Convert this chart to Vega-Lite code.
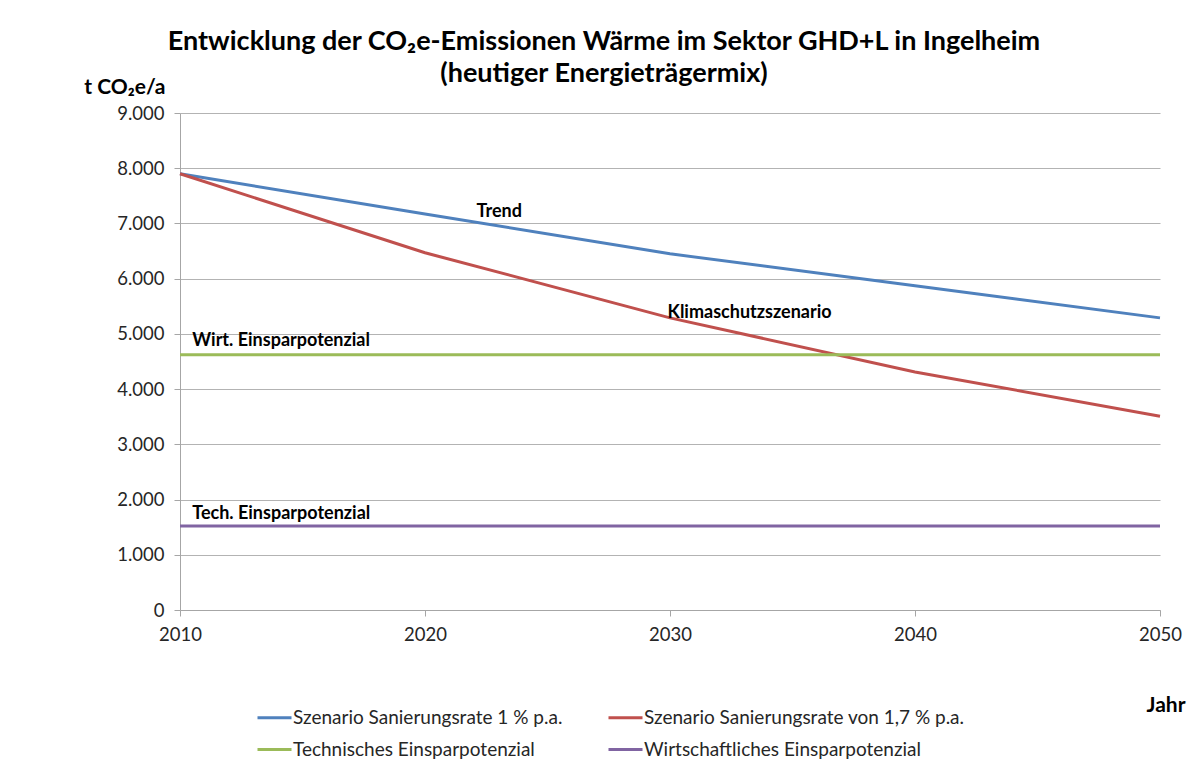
{
  "$schema": "https://vega.github.io/schema/vega-lite/v6.json",
  "width": 980,
  "height": 497,
  "autosize": {"type": "none"},
  "padding": {"left": 180, "top": 113, "right": 32, "bottom": 159},
  "background": "white",
  "title": {
    "text": ["Entwicklung der CO₂e-Emissionen Wärme im Sektor GHD+L in Ingelheim", "(heutiger Energieträgermix)"],
    "font": "Lato",
    "fontSize": 27,
    "fontWeight": "bold",
    "color": "#000000",
    "anchor": "middle",
    "frame": "group",
    "dx": -66,
    "dy": 8,
    "offset": -4,
    "lineHeight": 32
  },
  "config": {
    "locale": {"number": {"decimal": ",", "thousands": ".", "grouping": [3], "currency": ["", " €"]}},
    "view": {"stroke": null},
    "font": "Lato"
  },
  "datasets": {
    "lines": [
      {"year": 2010, "value": 7900, "series": "Szenario Sanierungsrate 1 % p.a."},
      {"year": 2020, "value": 7170, "series": "Szenario Sanierungsrate 1 % p.a."},
      {"year": 2030, "value": 6450, "series": "Szenario Sanierungsrate 1 % p.a."},
      {"year": 2040, "value": 5870, "series": "Szenario Sanierungsrate 1 % p.a."},
      {"year": 2050, "value": 5290, "series": "Szenario Sanierungsrate 1 % p.a."},
      {"year": 2010, "value": 7900, "series": "Szenario Sanierungsrate von 1,7 % p.a."},
      {"year": 2020, "value": 6470, "series": "Szenario Sanierungsrate von 1,7 % p.a."},
      {"year": 2030, "value": 5290, "series": "Szenario Sanierungsrate von 1,7 % p.a."},
      {"year": 2040, "value": 4310, "series": "Szenario Sanierungsrate von 1,7 % p.a."},
      {"year": 2050, "value": 3510, "series": "Szenario Sanierungsrate von 1,7 % p.a."},
      {"year": 2010, "value": 4620, "series": "Technisches Einsparpotenzial"},
      {"year": 2050, "value": 4620, "series": "Technisches Einsparpotenzial"},
      {"year": 2010, "value": 1520, "series": "Wirtschaftliches Einsparpotenzial"},
      {"year": 2050, "value": 1520, "series": "Wirtschaftliches Einsparpotenzial"}
    ],
    "labels": [
      {"year": 2022.1, "value": 7210, "label": "Trend"},
      {"year": 2029.9, "value": 5380, "label": "Klimaschutzszenario"},
      {"year": 2010.5, "value": 4873, "label": "Wirt. Einsparpotenzial"},
      {"year": 2010.5, "value": 1739, "label": "Tech. Einsparpotenzial"}
    ]
  },
  "layer": [
    {
      "data": {"name": "lines"},
      "mark": {"type": "line", "strokeWidth": 3},
      "encoding": {
        "x": {
          "field": "year",
          "type": "quantitative",
          "scale": {"domain": [2010, 2050], "nice": false, "zero": false},
          "axis": {
            "values": [2010, 2020, 2030, 2040, 2050],
            "format": "d",
            "grid": false,
            "labelFlush": false,
            "domainColor": "#a6a6a6",
            "tickColor": "#a6a6a6",
            "tickSize": 6,
            "labelFont": "Lato",
            "labelFontSize": 18.5,
            "labelColor": "#262626",
            "labelPadding": 9,
            "title": "Jahr",
            "titleFont": "Lato",
            "titleFontSize": 21,
            "titleFontWeight": "bold",
            "titleColor": "#000000",
            "titleAlign": "right",
            "titleBaseline": "alphabetic",
            "titleX": 1005,
            "titleY": 101
          }
        },
        "y": {
          "field": "value",
          "type": "quantitative",
          "scale": {"domain": [0, 9000], "nice": false},
          "axis": {
            "values": [0, 1000, 2000, 3000, 4000, 5000, 6000, 7000, 8000, 9000],
            "format": ",.0f",
            "grid": true,
            "gridColor": "#b3b3b3",
            "gridWidth": 1,
            "domainColor": "#a6a6a6",
            "tickColor": "#a6a6a6",
            "tickSize": 6,
            "labelFont": "Lato",
            "labelFontSize": 18.5,
            "labelColor": "#262626",
            "labelPadding": 10,
            "title": "t CO₂e/a",
            "titleFont": "Lato",
            "titleFontSize": 21,
            "titleFontWeight": "bold",
            "titleColor": "#000000",
            "titleAngle": 0,
            "titleAlign": "right",
            "titleBaseline": "alphabetic",
            "titleX": -15,
            "titleY": -20
          }
        },
        "color": {
          "field": "series",
          "type": "nominal",
          "scale": {
            "domain": ["Szenario Sanierungsrate 1 % p.a.", "Szenario Sanierungsrate von 1,7 % p.a.", "Technisches Einsparpotenzial", "Wirtschaftliches Einsparpotenzial"],
            "range": ["#4F81BD", "#C0504D", "#9BBB59", "#8064A2"]
          },
          "legend": {
            "orient": "none",
            "legendX": 76,
            "legendY": 586,
            "direction": "horizontal",
            "columns": 2,
            "title": null,
            "symbolType": "stroke",
            "symbolSize": 1156,
            "symbolStrokeWidth": 3,
            "labelFont": "Lato",
            "labelFontSize": 19,
            "labelColor": "#262626",
            "labelOffset": 0,
            "labelLimit": 500,
            "columnPadding": 39,
            "rowPadding": 3,
            "gridAlign": "each"
          }
        }
      }
    },
    {
      "data": {"name": "labels"},
      "mark": {"type": "text", "align": "left", "baseline": "middle", "font": "Lato", "fontSize": 18, "fontWeight": "bold", "color": "#000000"},
      "encoding": {
        "x": {"field": "year", "type": "quantitative"},
        "y": {"field": "value", "type": "quantitative"},
        "text": {"field": "label"}
      }
    }
  ]
}
